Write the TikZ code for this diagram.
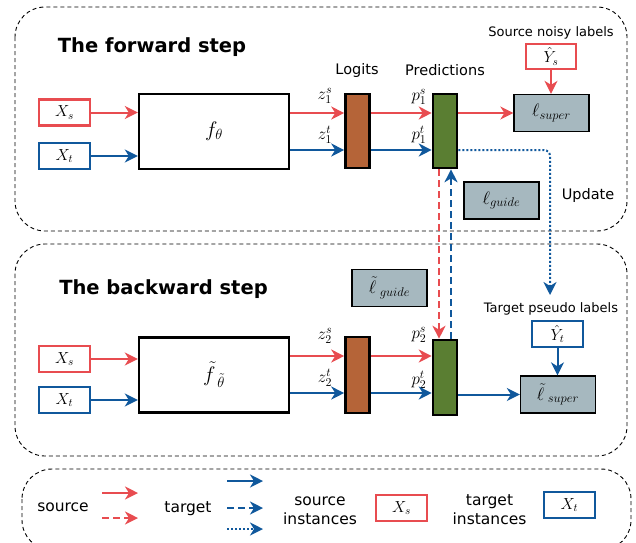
\RequirePackage{fix-cm}
\documentclass[tikz,border=0pt]{standalone}
\usepackage{amsmath,amssymb}
\usepackage[no-math]{fontspec}
\setmainfont{DejaVu Sans}
\usepackage{tikz}
\usetikzlibrary{arrows.meta,positioning}
\definecolor{srcred}{RGB}{232,76,80}
\definecolor{tgtblue}{RGB}{16,88,156}
\definecolor{logitbrown}{RGB}{181,100,56}
\definecolor{predgreen}{RGB}{90,126,50}
\definecolor{lossgray}{RGB}{166,184,191}
\tikzstyle{arrow} = [line width=2pt, -{Stealth[length=13pt, width=13pt, inset=4pt]}]
\tikzstyle{srcarrow} = [arrow, draw=srcred]
\tikzstyle{tgtarrow} = [arrow, draw=tgtblue]
\tikzstyle{frame} = [draw, line width=0.9pt, dash pattern=on 4pt off 3pt, rounded corners=30pt]
\tikzstyle{lbl} = [font=\fontsize{14.5}{16}\selectfont]
\tikzstyle{smalllbl} = [font=\fontsize{13}{15}\selectfont]
\tikzstyle{leglbl} = [font=\fontsize{15.5}{17}\selectfont, align=center]
\tikzstyle{mathlbl} = [font=\fontsize{17}{19}\selectfont, inner sep=0pt]

\begin{document}
\begin{tikzpicture}[x=1pt, y=-1pt]
		\useasboundingbox (0,0) rectangle (636,542);
		\coordinate (xs1) at (64.5,112.5);
		\coordinate (xt1) at (64.5,156);
		\coordinate (f1) at (214,131.5);
		\coordinate (logit1) at (357.5,131);
		\coordinate (pred1) at (445,131);
		\coordinate (lsup1) at (551.5,113);
		\coordinate (ys) at (551,56.5);
		\coordinate (lguide1) at (501.5,200.5);
		\coordinate (xs2) at (64.5,359);
		\coordinate (xt2) at (64.5,400);
		\coordinate (f2) at (214,375);
		\coordinate (logit2) at (357.5,375);
		\coordinate (pred2) at (445,377.5);
		\coordinate (lsup2) at (558,394.5);
		\coordinate (yt) at (557.5,334);
		\coordinate (lguide2) at (389.5,288);
		% Frames
		\draw[frame] (15,7) rectangle (627,231);
		\draw[frame] (15,244) rectangle (627,456);
		\draw[frame] (22,469) rectangle (631,550);
		% Titles
		\node[font=\fontsize{19.5}{22}\selectfont\bfseries] (title1) at (152,47) {The forward step};
		\node[font=\fontsize{19.5}{22}\selectfont\bfseries] (title2) at (163.5,289) {The backward step};
		% Inputs
		\begin{scope}[every node/.style={draw, line width=2.2pt, rectangle, minimum width=51pt, minimum height=26pt, inner sep=0pt, font=\fontsize{16}{18}\selectfont}]
		\node[draw=srcred, name=xs1] at (xs1) {$X_s$};
		\node[draw=tgtblue, name=xt1] at (xt1) {$X_t$};
		\node[draw=srcred, name=xs2] at (xs2) {$X_s$};
		\node[draw=tgtblue, name=xt2] at (xt2) {$X_t$};
		\node[draw=srcred, minimum width=50pt, minimum height=25pt, name=ys] at (ys) {$\hat{Y}_s$};
		\node[draw=tgtblue, name=yt] at (yt) {$\hat{Y}_t$};
		\end{scope}
		% Networks
		\begin{scope}[every node/.style={draw, line width=2.4pt, rectangle, minimum width=150pt, minimum height=75pt, inner sep=0pt, font=\fontsize{21}{23}\selectfont}]
		\node[name=f1] at (f1) {$f_\theta$};
		\node[name=f2] at (f2) {$\tilde{f}_{\;\tilde{\theta}}$};
		\end{scope}
		% Logits and predictions
		\begin{scope}[every node/.style={draw, line width=2.6pt, rectangle, minimum width=24pt, minimum height=74pt, inner sep=0pt}]
		\node[fill=logitbrown, name=logit1] at (logit1) {};
		\node[fill=predgreen, name=pred1] at (pred1) {};
		\node[fill=logitbrown, minimum height=76pt, name=logit2] at (logit2) {};
		\node[fill=predgreen, minimum height=75pt, name=pred2] at (pred2) {};
		\end{scope}
		% Losses
		\begin{scope}[every node/.style={draw, line width=1.3pt, fill=lossgray, rectangle, minimum width=75pt, minimum height=37pt, inner sep=0pt, font=\fontsize{18}{20}\selectfont}]
		\node[name=lsup1] at (lsup1) {$\ell_{super}$};
		\node[name=lguide1] at (lguide1) {$\ell_{guide}$};
		\node[name=lsup2] at (lsup2) {$\tilde{\ell}_{\;super}$};
		\node[name=lguide2] at (lguide2) {$\tilde{\ell}_{\;guide}$};
		\end{scope}
		% Labels
		\node[lbl] (logitslbl) at (357,70) {Logits};
		\node[lbl] (predlbl) at (445,70) {Predictions};
		\node[lbl] (updlbl) at (588,195) {Update};
		\node[smalllbl] (noisylbl) at (551,33) {Source noisy labels};
		\node[smalllbl] (pseudolbl) at (551,309) {Target pseudo labels};
		\node[mathlbl] (z1s) at (325,96) {$z_1^s$};
		\node[mathlbl] (z1t) at (325,135) {$z_1^t$};
		\node[mathlbl] (p1s) at (419,97) {$p_1^s$};
		\node[mathlbl] (p1t) at (419,135) {$p_1^t$};
		\node[mathlbl] (z2s) at (325,336) {$z_2^s$};
		\node[mathlbl] (z2t) at (325,378) {$z_2^t$};
		\node[mathlbl] (p2s) at (419,335) {$p_2^s$};
		\node[mathlbl] (p2t) at (419,380) {$p_2^t$};
		% Forward step
		\draw [srcarrow] (xs1.east) -- (xs1.east -| f1.west);
		\draw [tgtarrow] (xt1.east) -- (xt1.east -| f1.west);
		\draw [srcarrow] ([yshift=18.5pt]f1.east) -- ([yshift=18pt]logit1.west);
		\draw [tgtarrow] ([yshift=-18.5pt]f1.east) -- ([yshift=-19pt]logit1.west);
		\draw [srcarrow] ([yshift=18pt]logit1.east) -- ([yshift=18pt]pred1.west);
		\draw [tgtarrow] ([yshift=-19pt]logit1.east) -- ([yshift=-19pt]pred1.west);
		\draw [srcarrow] (pred1.east |- lsup1.west) -- (lsup1.west);
		\draw [srcarrow] (ys.south) -- (ys.south |- lsup1.north);
		% Backward step
		\draw [srcarrow] (xs2.east) -- (xs2.east -| f2.west);
		\draw [tgtarrow] (xt2.east) -- (xt2.east -| f2.west);
		\draw [srcarrow] ([yshift=19pt]f2.east) -- ([yshift=19pt]logit2.west);
		\draw [tgtarrow] ([yshift=-18pt]f2.east) -- ([yshift=-18pt]logit2.west);
		\draw [srcarrow] ([yshift=19pt]logit2.east) -- ([yshift=19pt]logit2.east -| pred2.west);
		\draw [tgtarrow] ([yshift=-18pt]logit2.east) -- ([yshift=-18pt]logit2.east -| pred2.west);
		\draw [tgtarrow] (pred2.east |- lsup2.west) -- (lsup2.west);
		\draw [tgtarrow] (yt.south) -- (yt.south |- lsup2.north);
		% Between the steps
		\draw [srcarrow, dash pattern=on 7pt off 4pt] ([xshift=-6pt]pred1.south) -- ([xshift=-6pt]pred2.north);
		\draw [tgtarrow, dash pattern=on 7pt off 4pt] ([xshift=6pt]pred2.north) -- ([xshift=6pt]pred1.south);
		\coordinate (updend) at (550,295);
		\draw [tgtarrow, dash pattern=on 2pt off 2pt, rounded corners=6pt] ([yshift=-19pt]pred1.east) -| (updend);
		% Legend
		\node[leglbl] (legsrc) at (63,507) {source};
		\node[leglbl] (legtgt) at (188,509) {target};
		\node[leglbl, font=\fontsize{15.5}{19}\selectfont] (legsrcinst) at (320,510.5) {source\\instances};
		\node[leglbl, font=\fontsize{15.5}{19}\selectfont] (legtgtinst) at (489.5,509.5) {target\\instances};
		\begin{scope}[every node/.style={draw, line width=2.2pt, rectangle, minimum width=51pt, minimum height=26pt, inner sep=0pt, font=\fontsize{16}{18}\selectfont}]
		\node[draw=srcred, name=legxs] at (401.5,508) {$X_s$};
		\node[draw=tgtblue, name=legxt] at (569.5,505) {$X_t$};
		\end{scope}
		\coordinate (a1) at (102,493); \coordinate (b1) at (138,493);
		\coordinate (a2) at (102,518); \coordinate (b2) at (138,518);
		\coordinate (a3) at (227,481); \coordinate (b3) at (263,481);
		\coordinate (a4) at (227,508); \coordinate (b4) at (263,508);
		\coordinate (a5) at (227,529); \coordinate (b5) at (263,529);
		\draw [srcarrow] (a1) -- (b1);
		\draw [srcarrow, dash pattern=on 7pt off 4pt] (a2) -- (b2);
		\draw [tgtarrow] (a3) -- (b3);
		\draw [tgtarrow, dash pattern=on 7pt off 4pt] (a4) -- (b4);
		\draw [tgtarrow, dash pattern=on 2pt off 2pt] (a5) -- (b5);
\end{tikzpicture}
\end{document}
